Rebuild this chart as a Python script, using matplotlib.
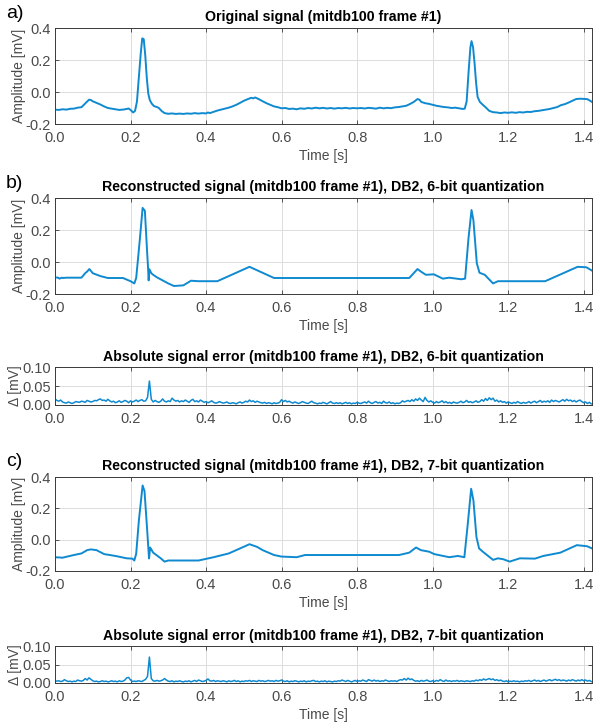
import numpy as np
import matplotlib
matplotlib.use("Agg")
import matplotlib.pyplot as plt
from matplotlib.ticker import FormatStrFormatter, MultipleLocator

plt.rcParams['font.family'] = ['Liberation Sans', 'DejaVu Sans']

# ---------------- data ----------------
orig_t = [0.000,0.010,0.020,0.030,0.040,0.050,0.060,0.070,0.080,0.090,0.095,0.100,0.110,0.120,0.130,0.140,0.150,0.160,0.170,0.180,0.190,0.195,0.200,0.207,0.212,0.217,0.222,0.227,0.231,0.235,0.239,0.243,0.247,0.251,0.256,0.262,0.270,0.275,0.282,0.290,0.300,0.310,0.320,0.330,0.340,0.350,0.360,0.370,0.380,0.390,0.400,0.405,0.410,0.420,0.430,0.440,0.450,0.460,0.470,0.480,0.490,0.500,0.510,0.520,0.525,0.530,0.540,0.550,0.560,0.570,0.580,0.590,0.600,0.610,0.620,0.630,0.640,0.650,0.660,0.670,0.680,0.690,0.700,0.710,0.720,0.730,0.740,0.750,0.760,0.770,0.780,0.790,0.800,0.810,0.820,0.830,0.840,0.850,0.860,0.870,0.880,0.890,0.900,0.910,0.920,0.930,0.940,0.950,0.960,0.965,0.970,0.980,0.990,1.000,1.010,1.020,1.030,1.040,1.050,1.060,1.070,1.080,1.085,1.090,1.095,1.100,1.103,1.107,1.111,1.115,1.119,1.125,1.132,1.140,1.150,1.160,1.170,1.180,1.190,1.200,1.210,1.220,1.230,1.240,1.250,1.260,1.270,1.280,1.290,1.300,1.310,1.320,1.330,1.340,1.350,1.360,1.370,1.380,1.390,1.400,1.410,1.422]
orig_v = [-0.110,-0.112,-0.108,-0.110,-0.105,-0.104,-0.098,-0.095,-0.072,-0.048,-0.050,-0.058,-0.068,-0.078,-0.090,-0.100,-0.104,-0.108,-0.112,-0.110,-0.106,-0.103,-0.112,-0.128,-0.118,-0.060,0.090,0.240,0.335,0.330,0.230,0.090,-0.010,-0.050,-0.072,-0.088,-0.094,-0.100,-0.118,-0.132,-0.136,-0.134,-0.137,-0.135,-0.137,-0.134,-0.136,-0.132,-0.135,-0.132,-0.134,-0.128,-0.132,-0.124,-0.116,-0.110,-0.104,-0.098,-0.090,-0.080,-0.068,-0.055,-0.045,-0.036,-0.040,-0.034,-0.045,-0.058,-0.070,-0.080,-0.090,-0.095,-0.102,-0.100,-0.106,-0.104,-0.108,-0.102,-0.105,-0.100,-0.103,-0.098,-0.102,-0.099,-0.103,-0.100,-0.104,-0.100,-0.102,-0.099,-0.103,-0.100,-0.102,-0.100,-0.103,-0.099,-0.101,-0.104,-0.098,-0.102,-0.099,-0.101,-0.096,-0.094,-0.090,-0.086,-0.075,-0.062,-0.044,-0.048,-0.062,-0.070,-0.074,-0.080,-0.086,-0.090,-0.094,-0.096,-0.100,-0.098,-0.102,-0.106,-0.104,-0.060,0.120,0.280,0.318,0.280,0.180,0.060,-0.030,-0.062,-0.078,-0.095,-0.118,-0.126,-0.128,-0.132,-0.128,-0.130,-0.127,-0.130,-0.126,-0.128,-0.124,-0.125,-0.120,-0.118,-0.114,-0.110,-0.106,-0.100,-0.094,-0.082,-0.076,-0.066,-0.055,-0.044,-0.042,-0.043,-0.045,-0.062]

rec6_t = [0.000,0.008,0.012,0.018,0.022,0.030,0.070,0.080,0.085,0.091,0.100,0.120,0.140,0.180,0.200,0.210,0.215,0.225,0.232,0.238,0.244,0.246,0.248,0.250,0.255,0.260,0.270,0.300,0.315,0.340,0.360,0.380,0.430,0.515,0.580,0.620,0.938,0.960,0.969,0.982,1.003,1.027,1.044,1.076,1.086,1.095,1.103,1.108,1.117,1.124,1.138,1.160,1.173,1.298,1.384,1.407,1.422]
rec6_v = [-0.096,-0.098,-0.104,-0.098,-0.100,-0.098,-0.098,-0.070,-0.060,-0.044,-0.070,-0.088,-0.100,-0.100,-0.120,-0.134,-0.100,0.150,0.338,0.320,0.060,-0.020,-0.115,-0.045,-0.070,-0.080,-0.096,-0.134,-0.150,-0.146,-0.117,-0.120,-0.120,-0.030,-0.100,-0.100,-0.100,-0.044,-0.060,-0.080,-0.077,-0.104,-0.098,-0.108,-0.104,0.150,0.325,0.260,-0.008,-0.067,-0.080,-0.134,-0.120,-0.120,-0.030,-0.033,-0.054]

rec7_t = [0.000,0.020,0.050,0.070,0.085,0.095,0.110,0.130,0.160,0.190,0.205,0.210,0.215,0.222,0.232,0.237,0.243,0.247,0.249,0.252,0.260,0.280,0.290,0.300,0.380,0.420,0.460,0.490,0.515,0.535,0.550,0.580,0.600,0.640,0.662,0.911,0.938,0.956,0.969,0.991,1.004,1.044,1.067,1.084,1.093,1.102,1.108,1.116,1.123,1.133,1.147,1.160,1.173,1.187,1.204,1.231,1.271,1.293,1.338,1.382,1.409,1.422]
rec7_v = [-0.112,-0.115,-0.098,-0.088,-0.067,-0.062,-0.067,-0.092,-0.104,-0.119,-0.121,-0.133,-0.090,0.120,0.346,0.310,0.100,-0.046,-0.120,-0.050,-0.083,-0.119,-0.140,-0.133,-0.133,-0.112,-0.088,-0.056,-0.029,-0.046,-0.067,-0.098,-0.108,-0.112,-0.098,-0.098,-0.083,-0.050,-0.067,-0.077,-0.092,-0.112,-0.104,-0.112,0.100,0.325,0.250,0.017,-0.056,-0.077,-0.104,-0.129,-0.119,-0.125,-0.140,-0.119,-0.121,-0.104,-0.083,-0.035,-0.042,-0.056]

err_dt = 0.005
err6_v = [
0.016,0.012,0.010,0.013,0.008,0.006,0.005,0.008,0.006,0.004,
0.006,0.009,0.008,0.007,0.010,0.009,0.007,0.012,0.010,0.008,
0.009,0.012,0.011,0.014,0.016,0.012,0.013,0.010,0.015,0.011,
0.008,0.010,0.006,0.008,0.011,0.007,0.009,0.012,0.010,0.006,
0.011,0.008,0.010,0.013,0.009,0.012,0.014,0.010,0.011,0.020,
0.063,0.015,0.008,0.012,0.009,0.007,0.010,0.016,0.010,0.008,
0.011,0.009,0.018,0.013,0.010,0.012,0.008,0.011,0.009,0.013,
0.010,0.007,0.012,0.015,0.009,0.011,0.008,0.013,0.010,0.007,
0.009,0.006,0.008,0.011,0.007,0.005,0.006,0.009,0.007,0.005,
0.006,0.008,0.005,0.004,0.006,0.005,0.003,0.006,0.008,0.005,
0.007,0.010,0.008,0.013,0.009,0.011,0.007,0.010,0.008,0.006,
0.005,0.007,0.004,0.006,0.005,0.003,0.006,0.004,0.005,0.007,
0.014,0.009,0.012,0.008,0.010,0.007,0.005,0.008,0.006,0.004,
0.006,0.009,0.007,0.005,0.004,0.007,0.010,0.006,0.005,0.003,
0.005,0.004,0.007,0.005,0.003,0.006,0.009,0.005,0.004,0.006,
0.004,0.006,0.003,0.005,0.007,0.004,0.006,0.003,0.005,0.004,
0.007,0.005,0.004,0.006,0.008,0.005,0.010,0.006,0.004,0.007,
0.009,0.005,0.007,0.004,0.010,0.006,0.005,0.008,0.004,0.006,
0.003,0.005,0.004,0.006,0.011,0.008,0.010,0.012,0.009,0.014,
0.010,0.016,0.012,0.018,0.013,0.009,0.020,0.012,0.008,0.011,
0.007,0.005,0.009,0.006,0.008,0.011,0.006,0.009,0.005,0.007,
0.004,0.008,0.006,0.005,0.007,0.010,0.006,0.008,0.012,0.007,
0.009,0.006,0.008,0.011,0.007,0.009,0.014,0.010,0.017,0.012,
0.019,0.014,0.018,0.010,0.013,0.008,0.011,0.007,0.009,0.005,
0.008,0.006,0.004,0.007,0.005,0.009,0.006,0.004,0.007,0.005,
0.006,0.009,0.005,0.008,0.010,0.006,0.009,0.012,0.007,0.010,
0.008,0.011,0.007,0.013,0.009,0.012,0.010,0.008,0.011,0.014,
0.010,0.015,0.011,0.013,0.009,0.012,0.008,0.011,0.013,0.009,
0.006,0.008,0.004,0.007,0.003]
err7_v = [
0.006,0.005,0.006,0.004,0.005,0.009,0.006,0.004,0.005,0.003,
0.005,0.004,0.008,0.006,0.005,0.007,0.012,0.008,0.014,0.010,
0.006,0.004,0.005,0.003,0.004,0.006,0.004,0.005,0.003,0.004,
0.006,0.004,0.005,0.003,0.006,0.004,0.005,0.008,0.014,0.015,
0.008,0.004,0.005,0.004,0.006,0.005,0.004,0.007,0.010,0.018,
0.070,0.012,0.006,0.005,0.007,0.005,0.006,0.008,0.012,0.008,
0.005,0.004,0.006,0.003,0.005,0.004,0.006,0.004,0.003,0.005,
0.004,0.006,0.003,0.005,0.007,0.004,0.008,0.006,0.004,0.005,
0.007,0.011,0.006,0.005,0.007,0.004,0.006,0.005,0.004,0.006,
0.005,0.003,0.006,0.004,0.005,0.007,0.004,0.006,0.003,0.005,
0.004,0.006,0.005,0.007,0.004,0.006,0.005,0.004,0.007,0.005,
0.006,0.004,0.005,0.007,0.005,0.006,0.004,0.007,0.005,0.006,
0.008,0.005,0.004,0.006,0.003,0.005,0.004,0.006,0.005,0.003,
0.005,0.004,0.006,0.003,0.005,0.004,0.006,0.007,0.004,0.005,
0.003,0.005,0.004,0.006,0.003,0.005,0.004,0.003,0.005,0.004,
0.006,0.005,0.008,0.006,0.004,0.007,0.005,0.003,0.005,0.007,
0.004,0.006,0.005,0.008,0.006,0.004,0.009,0.007,0.005,0.008,
0.005,0.007,0.004,0.006,0.005,0.008,0.006,0.004,0.006,0.005,
0.006,0.004,0.007,0.009,0.008,0.012,0.008,0.013,0.009,0.011,
0.007,0.005,0.006,0.004,0.007,0.005,0.006,0.008,0.005,0.004,
0.006,0.004,0.007,0.005,0.009,0.006,0.004,0.008,0.005,0.006,
0.004,0.006,0.005,0.007,0.004,0.006,0.005,0.004,0.006,0.005,
0.004,0.006,0.005,0.008,0.006,0.009,0.007,0.011,0.008,0.010,
0.012,0.009,0.011,0.007,0.009,0.006,0.008,0.005,0.004,0.006,
0.003,0.005,0.004,0.006,0.004,0.005,0.003,0.005,0.004,0.006,
0.005,0.007,0.004,0.006,0.008,0.005,0.007,0.004,0.006,0.008,
0.005,0.007,0.009,0.006,0.008,0.010,0.007,0.009,0.006,0.008,
0.007,0.005,0.008,0.006,0.009,0.007,0.005,0.008,0.006,0.009,
0.006,0.008,0.005,0.007,0.004]

titles = ["Original signal (mitdb100 frame #1)",
          "Reconstructed signal (mitdb100 frame #1), DB2, 6-bit quantization",
          "Absolute signal error (mitdb100 frame #1), DB2, 6-bit quantization",
          "Reconstructed signal (mitdb100 frame #1), DB2, 7-bit quantization",
          "Absolute signal error (mitdb100 frame #1), DB2, 7-bit quantization"]
panel_labels = ["a)", "b)", "c)"]
x_max = 1.422

# ---------------- figure ----------------
W, H = 594, 726
fig = plt.figure(figsize=(W / 100, H / 100), dpi=100)

def box(top, bottom, left=55, right=592):
    return [left / W, 1 - bottom / H, (right - left) / W, (bottom - top) / H]

line_c = '#0f8ad0'
axis_c = '#3a3a3a'
tick_c = '#4a4a4a'
TICK_FS = 10.5
LAB_FS = 10
TITLE_FS = 10.2

def style(ax, kind):
    ax.set_xlim(0, x_max)
    ax.xaxis.set_major_locator(MultipleLocator(0.2))
    ax.xaxis.set_major_formatter(FormatStrFormatter('%.1f'))
    if kind == 'sig':
        ax.set_ylim(-0.2, 0.4)
        ax.yaxis.set_major_locator(MultipleLocator(0.2))
        ax.yaxis.set_major_formatter(FormatStrFormatter('%.1f'))
        ax.set_ylabel('Amplitude [mV]', fontsize=LAB_FS, color=tick_c, labelpad=0)
    else:
        ax.set_ylim(0, 0.1)
        ax.yaxis.set_major_locator(MultipleLocator(0.05))
        ax.yaxis.set_major_formatter(FormatStrFormatter('%.2f'))
        ax.set_ylabel('Δ [mV]', fontsize=LAB_FS, color=tick_c, labelpad=0)
    ax.grid(True, color='#dcdcdc', linewidth=0.7)
    ax.set_axisbelow(True)
    ax.tick_params(direction='in', length=3, width=0.6, top=True, right=True,
                   labelsize=TICK_FS, colors=axis_c, labelcolor=tick_c)
    ax.tick_params(axis='x', pad=5)
    ax.tick_params(axis='y', pad=3)
    for s in ax.spines.values():
        s.set_color(axis_c)
        s.set_linewidth(0.7)

def xlab(ax):
    ax.set_xlabel('Time [s]', fontsize=LAB_FS, color=tick_c, labelpad=3)

t_err6 = np.arange(len(err6_v)) * err_dt
t_err7 = np.arange(len(err7_v)) * err_dt

ax1 = fig.add_axes(box(28, 124))
ax1.plot(orig_t, orig_v, color=line_c, lw=1.4)
style(ax1, 'sig')
ax1.set_title(titles[0], fontsize=TITLE_FS, fontweight='bold', pad=5)
xlab(ax1)

ax2 = fig.add_axes(box(198, 294))
ax2.plot(rec6_t, rec6_v, color=line_c, lw=1.4)
style(ax2, 'sig')
ax2.set_title(titles[1], fontsize=TITLE_FS, fontweight='bold', pad=5)
xlab(ax2)

ax3 = fig.add_axes(box(367, 405))
ax3.plot(t_err6, err6_v, color=line_c, lw=1.1)
style(ax3, 'err')
ax3.set_title(titles[2], fontsize=TITLE_FS, fontweight='bold', pad=4)

ax4 = fig.add_axes(box(477, 571))
ax4.plot(rec7_t, rec7_v, color=line_c, lw=1.4)
style(ax4, 'sig')
ax4.set_title(titles[3], fontsize=TITLE_FS, fontweight='bold', pad=5)
xlab(ax4)

ax5 = fig.add_axes(box(646, 683))
ax5.plot(t_err7, err7_v, color=line_c, lw=1.1)
style(ax5, 'err')
ax5.set_title(titles[4], fontsize=TITLE_FS, fontweight='bold', pad=4)
xlab(ax5)

for lbl, y in zip(panel_labels, [13, 183, 462]):
    fig.text(6 / W, 1 - y / H, lbl, fontsize=14, va='center', ha='left')

fig.savefig('out.png', dpi=100)
